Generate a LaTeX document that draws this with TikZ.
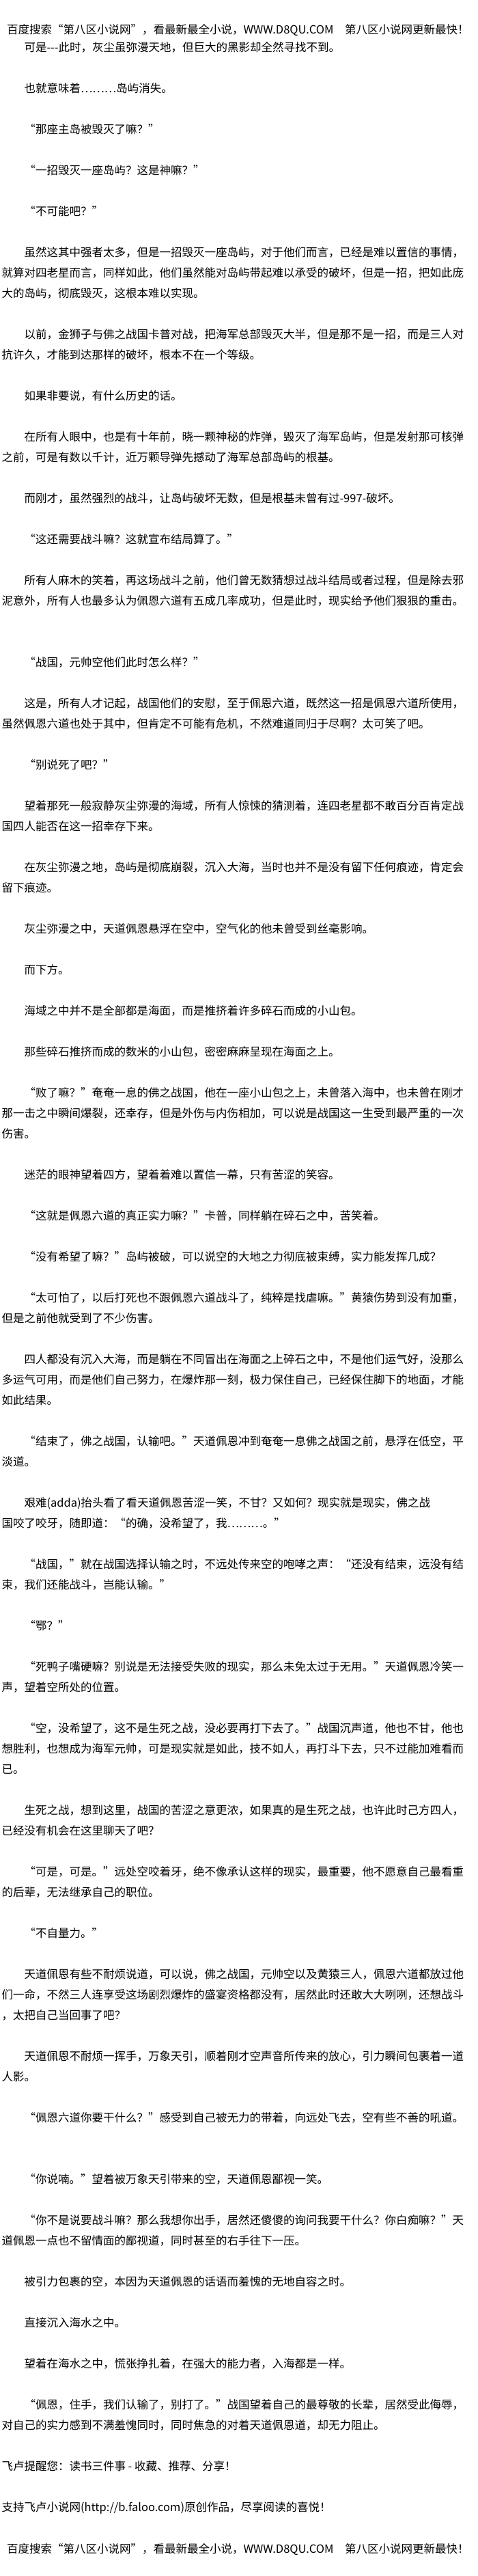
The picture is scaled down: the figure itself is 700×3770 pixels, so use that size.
\documentclass[tikz,border=0pt]{standalone}
\usepackage{fontspec}
\newfontfamily\cjk{Noto Sans CJK SC}
\tikzset{
  txt/.style={anchor=base west, inner sep=0pt, outer sep=0pt, text=black,
    font=\cjk\fontsize{16.5}{16.5}\selectfont}
}
\newcommand\Ln[4]{\node[txt] (#1) at (#2,{75+30*#3}) {#4};}
\begin{document}
\begin{tikzpicture}[x=1pt,y=-1pt]
\fill[white] (0,0) rectangle (700,3770);
\useasboundingbox (0,0) rectangle (700,3770);
\node[txt] (h1) at (10,49) {百度搜索“第八区小说网”，看最新最全小说，WWW.D8QU.COM　第八区小说网更新最快！};
\Ln{l2}{35.5}{0}{可是-\kern0pt-\kern0pt-此时，灰尘虽弥漫天地，但巨大的黑影却全然寻找不到。}
\Ln{l3}{35.5}{2}{也就意味着………岛屿消失。}
\Ln{l4}{35.5}{4}{“那座主岛被毁灭了嘛？”}
\Ln{l5}{35.5}{6}{“一招毁灭一座岛屿？这是神嘛？”}
\Ln{l6}{35.5}{8}{“不可能吧？”}
\Ln{l7}{35.5}{10}{虽然这其中强者太多，但是一招毁灭一座岛屿，对于他们而言，已经是难以置信的事情，}
\Ln{l8}{2.5}{11}{就算对四老星而言，同样如此，他们虽然能对岛屿带起难以承受的破坏，但是一招，把如此庞}
\Ln{l9}{2.5}{12}{大的岛屿，彻底毁灭，这根本难以实现。}
\Ln{l10}{35.5}{14}{以前，金狮子与佛之战国卡普对战，把海军总部毁灭大半，但是那不是一招，而是三人对}
\Ln{l11}{2.5}{15}{抗许久，才能到达那样的破坏，根本不在一个等级。}
\Ln{l12}{35.5}{17}{如果非要说，有什么历史的话。}
\Ln{l13}{35.5}{19}{在所有人眼中，也是有十年前，晓一颗神秘的炸弹，毁灭了海军岛屿，但是发射那可核弹}
\Ln{l14}{2.5}{20}{之前，可是有数以千计，近万颗导弹先撼动了海军总部岛屿的根基。}
\Ln{l15}{35.5}{22}{而刚才，虽然强烈的战斗，让岛屿破坏无数，但是根基未曾有过-997-破坏。}
\Ln{l16}{35.5}{24}{“这还需要战斗嘛？这就宣布结局算了。”}
\Ln{l17}{35.5}{26}{所有人麻木的笑着，再这场战斗之前，他们曾无数猜想过战斗结局或者过程，但是除去邪}
\Ln{l18}{2.5}{27}{泥意外，所有人也最多认为佩恩六道有五成几率成功，但是此时，现实给予他们狠狠的重击。}
\Ln{l19}{35.5}{30}{“战国，元帅空他们此时怎么样？”}
\Ln{l20}{35.5}{32}{这是，所有人才记起，战国他们的安慰，至于佩恩六道，既然这一招是佩恩六道所使用，}
\Ln{l21}{2.5}{33}{虽然佩恩六道也处于其中，但肯定不可能有危机，不然难道同归于尽啊？太可笑了吧。}
\Ln{l22}{35.5}{35}{“别说死了吧？”}
\Ln{l23}{35.5}{37}{望着那死一般寂静灰尘弥漫的海域，所有人惊悚的猜测着，连四老星都不敢百分百肯定战}
\Ln{l24}{2.5}{38}{国四人能否在这一招幸存下来。}
\Ln{l25}{35.5}{40}{在灰尘弥漫之地，岛屿是彻底崩裂，沉入大海，当时也并不是没有留下任何痕迹，肯定会}
\Ln{l26}{2.5}{41}{留下痕迹。}
\Ln{l27}{35.5}{43}{灰尘弥漫之中，天道佩恩悬浮在空中，空气化的他未曾受到丝毫影响。}
\Ln{l28}{35.5}{45}{而下方。}
\Ln{l29}{35.5}{47}{海域之中并不是全部都是海面，而是推挤着许多碎石而成的小山包。}
\Ln{l30}{35.5}{49}{那些碎石推挤而成的数米的小山包，密密麻麻呈现在海面之上。}
\Ln{l31}{35.5}{51}{“败了嘛？”奄奄一息的佛之战国，他在一座小山包之上，未曾落入海中，也未曾在刚才}
\Ln{l32}{2.5}{52}{那一击之中瞬间爆裂，还幸存，但是外伤与内伤相加，可以说是战国这一生受到最严重的一次}
\Ln{l33}{2.5}{53}{伤害。}
\Ln{l34}{35.5}{55}{迷茫的眼神望着四方，望着着难以置信一幕，只有苦涩的笑容。}
\Ln{l35}{35.5}{57}{“这就是佩恩六道的真正实力嘛？”卡普，同样躺在碎石之中，苦笑着。}
\Ln{l36}{35.5}{59}{“没有希望了嘛？”岛屿被破，可以说空的大地之力彻底被束缚，实力能发挥几成？}
\Ln{l37}{35.5}{61}{“太可怕了，以后打死也不跟佩恩六道战斗了，纯粹是找虐嘛。”黄猿伤势到没有加重，}
\Ln{l38}{2.5}{62}{但是之前他就受到了不少伤害。}
\Ln{l39}{35.5}{64}{四人都没有沉入大海，而是躺在不同冒出在海面之上碎石之中，不是他们运气好，没那么}
\Ln{l40}{2.5}{65}{多运气可用，而是他们自己努力，在爆炸那一刻，极力保住自己，已经保住脚下的地面，才能}
\Ln{l41}{2.5}{66}{如此结果。}
\Ln{l42}{35.5}{68}{“结束了，佛之战国，认输吧。”天道佩恩冲到奄奄一息佛之战国之前，悬浮在低空，平}
\Ln{l43}{2.5}{69}{淡道。}
\Ln{l44}{35.5}{71}{艰难(adda)抬头看了看天道佩恩苦涩一笑，不甘？又如何？现实就是现实，佛之战}
\Ln{l45}{2.5}{72}{国咬了咬牙，随即道：“的确，没希望了，我………。”}
\Ln{l46}{35.5}{74}{“战国，”就在战国选择认输之时，不远处传来空的咆哮之声：“还没有结束，远没有结}
\Ln{l47}{2.5}{75}{束，我们还能战斗，岂能认输。”}
\Ln{l48}{35.5}{77}{“鄂？”}
\Ln{l49}{35.5}{79}{“死鸭子嘴硬嘛？别说是无法接受失败的现实，那么未免太过于无用。”天道佩恩冷笑一}
\Ln{l50}{2.5}{80}{声，望着空所处的位置。}
\Ln{l51}{35.5}{82}{“空，没希望了，这不是生死之战，没必要再打下去了。”战国沉声道，他也不甘，他也}
\Ln{l52}{2.5}{83}{想胜利，也想成为海军元帅，可是现实就是如此，技不如人，再打斗下去，只不过能加难看而}
\Ln{l53}{2.5}{84}{已。}
\Ln{l54}{35.5}{86}{生死之战，想到这里，战国的苦涩之意更浓，如果真的是生死之战，也许此时己方四人，}
\Ln{l55}{2.5}{87}{已经没有机会在这里聊天了吧？}
\Ln{l56}{35.5}{89}{“可是，可是。”远处空咬着牙，绝不像承认这样的现实，最重要，他不愿意自己最看重}
\Ln{l57}{2.5}{90}{的后辈，无法继承自己的职位。}
\Ln{l58}{35.5}{92}{“不自量力。”}
\Ln{l59}{35.5}{94}{天道佩恩有些不耐烦说道，可以说，佛之战国，元帅空以及黄猿三人，佩恩六道都放过他}
\Ln{l60}{2.5}{95}{们一命，不然三人连享受这场剧烈爆炸的盛宴资格都没有，居然此时还敢大大咧咧，还想战斗}
\Ln{l61}{2.5}{96}{，太把自己当回事了吧？}
\Ln{l62}{35.5}{98}{天道佩恩不耐烦一挥手，万象天引，顺着刚才空声音所传来的放心，引力瞬间包裹着一道}
\Ln{l63}{2.5}{99}{人影。}
\Ln{l64}{35.5}{101}{“佩恩六道你要干什么？”感受到自己被无力的带着，向远处飞去，空有些不善的吼道。}
\Ln{l65}{35.5}{104}{“你说喃。”望着被万象天引带来的空，天道佩恩鄙视一笑。}
\Ln{l66}{35.5}{106}{“你不是说要战斗嘛？那么我想你出手，居然还傻傻的询问我要干什么？你白痴嘛？”天}
\Ln{l67}{2.5}{107}{道佩恩一点也不留情面的鄙视道，同时甚至的右手往下一压。}
\Ln{l68}{35.5}{109}{被引力包裹的空，本因为天道佩恩的话语而羞愧的无地自容之时。}
\Ln{l69}{35.5}{111}{直接沉入海水之中。}
\Ln{l70}{35.5}{113}{望着在海水之中，慌张挣扎着，在强大的能力者，入海都是一样。}
\Ln{l71}{35.5}{115}{“佩恩，住手，我们认输了，别打了。”战国望着自己的最尊敬的长辈，居然受此侮辱，}
\Ln{l72}{2.5}{116}{对自己的实力感到不满羞愧同时，同时焦急的对着天道佩恩道，却无力阻止。}
\Ln{l73}{2.5}{118}{飞卢提醒您：读书三件事 - 收藏、推荐、分享！}
\Ln{l74}{2.5}{120}{支持飞卢小说网(http://b.faloo.com)原创作品，尽享阅读的喜悦！}
\node[txt] (h2) at (10,3736) {百度搜索“第八区小说网”，看最新最全小说，WWW.D8QU.COM　第八区小说网更新最快！};
\end{tikzpicture}
\end{document}
